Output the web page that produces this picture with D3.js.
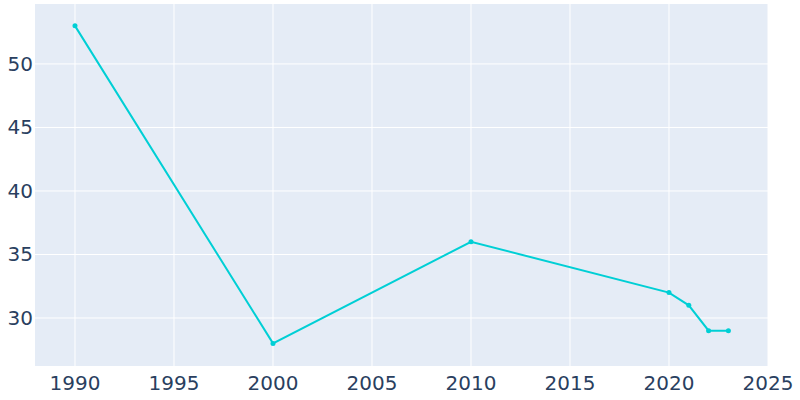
<!DOCTYPE html>
<html><head><meta charset="utf-8">
<script src="https://cdn.jsdelivr.net/npm/d3@7"></script>
<style>body{margin:0;background:#fff}text{font-family:"DejaVu Sans",sans-serif}</style>
</head><body>
<svg id="c" width="800" height="400"></svg>
<script>
const years=[1990,2000,2010,2020,2021,2022,2023];
const values=[53,28,36,32,31,29,29];
const xTicks=[1990,1995,2000,2005,2010,2015,2020,2025];
const yTicks=[30,35,40,45,50];
const svg=d3.select("#c");
const L=35,R=768,T=4,B=366;
const x=d3.scaleLinear().domain([1987.98,2025]).range([L,R]);
const y=d3.scaleLinear().domain([26.22,54.72]).range([B,T]);
svg.append("rect").attr("x",L).attr("y",T).attr("width",R-L).attr("height",B-T).attr("fill","#e5ecf6");
svg.selectAll(".gx").data(xTicks).join("line").attr("x1",d=>x(d)).attr("x2",d=>x(d)).attr("y1",T).attr("y2",B).attr("stroke","#fff").attr("stroke-width",1);
svg.selectAll(".gy").data(yTicks).join("line").attr("y1",d=>y(d)).attr("y2",d=>y(d)).attr("x1",L).attr("x2",R).attr("stroke","#fff").attr("stroke-width",1);
svg.selectAll(".tx").data(xTicks).join("text").attr("x",d=>x(d)).attr("y",390).attr("text-anchor","middle").attr("font-size",20).attr("fill","#2a3f5f").text(d=>d);
svg.selectAll(".ty").data(yTicks).join("text").attr("x",L-2).attr("y",d=>y(d)+7).attr("text-anchor","end").attr("font-size",20).attr("fill","#2a3f5f").text(d=>d);
const pts=years.map((d,i)=>[d,values[i]]);
svg.append("path").datum(pts).attr("d",d3.line().x(d=>x(d[0])).y(d=>y(d[1]))).attr("fill","none").attr("stroke","#00cfd5").attr("stroke-width",2);
svg.selectAll(".pt").data(pts).join("circle").attr("cx",d=>x(d[0])).attr("cy",d=>y(d[1])).attr("r",2.5).attr("fill","#00cfd5");
</script></body></html>
